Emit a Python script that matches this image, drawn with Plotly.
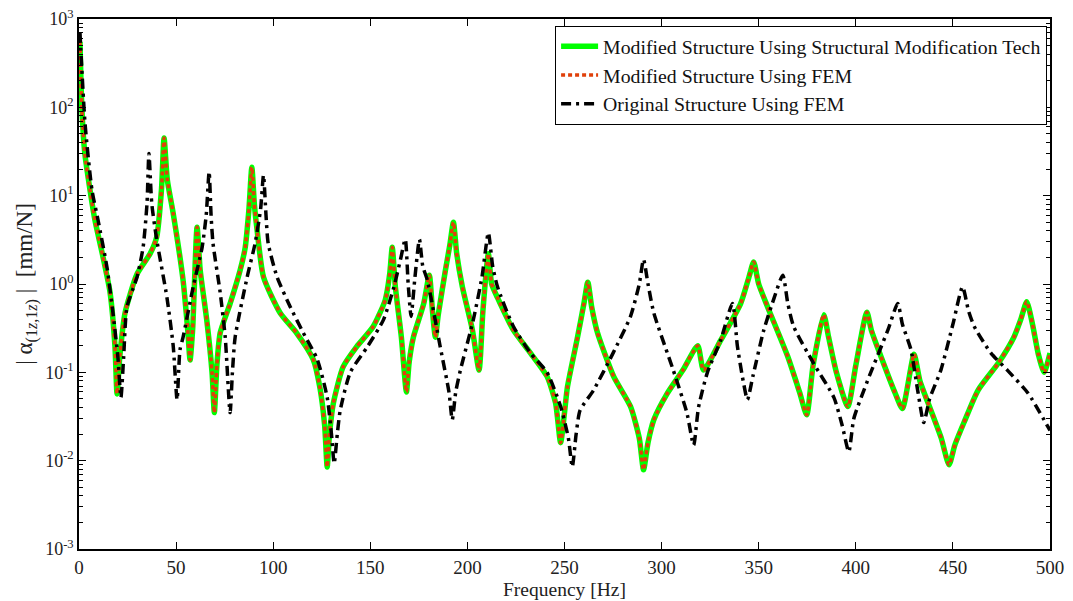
import plotly.graph_objects as go

# Modified structure (structural modification tech & FEM give the same curve)
mod_freq = [0.5, 1.5, 3, 5.7, 8.2, 12.4, 16, 18.5, 19.6, 21, 23.7, 29.9, 36.6, 40, 42.5, 43.8, 45.5, 48.5,
            53.6, 56, 57.2, 58.5, 60.8, 62.4, 65.8, 68.5, 69.7, 71, 72.7, 77.8, 83, 85.6, 87.5, 89, 90.3,
            91.7, 95, 103.6, 112, 120.6, 124, 126.5, 127.8, 129, 131, 136, 143, 151.5, 157.7, 160, 161.3,
            162.9, 166, 168.6, 170, 172.2, 177.5, 180.4, 182, 183.5, 185, 188.7, 191, 192.8, 194.5, 197.4,
            202.6, 206, 208, 210.8, 212.5, 215.5, 223.7, 232.5, 241, 245.4, 248, 250, 251.5, 256.7, 260,
            262, 264, 267, 275.3, 284, 288.5, 290.7, 293, 296, 303, 311, 318.6, 321.6, 330.4, 340.7, 345,
            347.4, 350, 354.6, 365, 371, 374.7, 378, 383.5, 386, 390, 395.9, 400, 405.7, 408, 413, 420,
            424, 430, 433, 438.7, 444, 448, 451, 455.7, 463, 473.7, 481.4, 485, 488, 491, 494, 497, 500]
mod_amp = [550, 95, 30, 11.5, 5.3, 2.0, 0.8, 0.2, 0.057, 0.15, 0.47, 1.3, 2.2, 3.4, 12, 45, 15, 6.3,
           1.1, 0.3, 0.138, 0.3, 4.4, 1.44, 0.39, 0.1, 0.035, 0.12, 0.28, 0.6, 1.44, 2.6, 7, 21, 8,
           4.1, 1.2, 0.47, 0.28, 0.14, 0.068, 0.025, 0.0085, 0.02, 0.045, 0.115, 0.195, 0.33, 0.66, 1.3, 2.6,
           0.93, 0.25, 0.06, 0.13, 0.25, 0.6, 1.26, 0.5, 0.25, 0.45, 1.44, 2.8, 5.0, 2.2, 0.93,
           0.3, 0.106, 0.5, 2.2, 1.0, 0.7, 0.3, 0.165, 0.09, 0.045, 0.016, 0.035, 0.068, 0.25, 0.6,
           1.05, 0.55, 0.28, 0.09, 0.041, 0.018, 0.0079, 0.016, 0.029, 0.058, 0.106, 0.2, 0.106, 0.23, 0.6, 1.2,
           1.78, 1.0, 0.55, 0.15, 0.06, 0.033, 0.12, 0.45, 0.25, 0.1, 0.041, 0.12, 0.48, 0.3, 0.15, 0.06,
           0.039, 0.16, 0.08, 0.037, 0.018, 0.009, 0.015, 0.027, 0.063, 0.13, 0.25, 0.4, 0.63, 0.35, 0.16, 0.1, 0.165]

# Original structure (FEM)
orig_freq = [0.5, 3.1, 6.7, 9.8, 14.4, 17.5, 20, 21.6, 23, 24.7, 29.9, 33, 35, 36, 37.5, 40, 45.3, 48.5,
             50.5, 52, 53.6, 58.8, 63.4, 65.5, 67, 68, 69, 72.7, 75.3, 77.8, 79, 80.4, 86.6, 90.7, 93.5,
             95, 96.3, 97.4, 102, 108.8, 115.5, 122.7, 127.8, 130, 131.4, 133, 134.5, 139.7, 148.5, 156.7,
             162, 165.5, 168, 169.5, 171, 173, 175.3, 177, 179.4, 186, 190.5, 192.2, 194, 196.4, 203,
             207.5, 210.8, 213, 215.5, 223.7, 232.5, 241, 248, 252, 254, 256, 258, 265, 275, 284, 288.5,
             290.7, 293, 296, 306, 313, 316.5, 319, 323.6, 330.4, 336.5, 339, 342, 344.2, 347, 352.6, 358,
             362.4, 365, 368, 378.4, 388.7, 393, 396.4, 399, 406, 416.5, 421.6, 424, 428.4, 432, 435, 438,
             443.8, 450, 455, 458, 461, 469.6, 478, 488.7, 500]
orig_amp = [700, 66, 11.5, 5.3, 1.55, 0.47, 0.15, 0.052, 0.15, 0.55, 1.2, 2.6, 8, 30, 8, 3.2, 0.7, 0.2,
            0.049, 0.18, 0.25, 0.93, 2.6, 6, 18.6, 6, 2.9, 0.8, 0.25, 0.035, 0.1, 0.25, 1.2, 2.9, 7,
            17, 6, 2.9, 1.2, 0.55, 0.28, 0.14, 0.052, 0.02, 0.0093, 0.02, 0.037, 0.1, 0.195, 0.39,
            0.9, 1.87, 3.2, 1.0, 0.43, 1.2, 3.2, 1.6, 1.1, 0.195, 0.06, 0.029, 0.06, 0.106, 0.39,
            1.2, 3.8, 1.6, 0.93, 0.33, 0.165, 0.1, 0.041, 0.018, 0.0085, 0.02, 0.037, 0.063, 0.165, 0.43, 1.0,
            1.9, 1.0, 0.47, 0.106, 0.035, 0.015, 0.04, 0.1, 0.23, 0.6, 0.2, 0.08, 0.049, 0.09, 0.3, 0.7,
            1.26, 0.6, 0.33, 0.125, 0.052, 0.025, 0.0126, 0.03, 0.08, 0.3, 0.6, 0.35, 0.18, 0.06, 0.027, 0.05,
            0.106, 0.35, 0.93, 0.5, 0.33, 0.165, 0.106, 0.058, 0.022]

x_ticks = [0, 50, 100, 150, 200, 250, 300, 350, 400, 450, 500]
y_ticks = [1e-3, 1e-2, 1e-1, 1e0, 1e1, 1e2, 1e3]
y_tick_text = ["10<sup>-3</sup>", "10<sup>-2</sup>", "10<sup>-1</sup>", "10<sup>0</sup>",
               "10<sup>1</sup>", "10<sup>2</sup>", "10<sup>3</sup>"]

FONT = "Liberation Serif"
TXT = "#222"

fig = go.Figure()
fig.add_trace(go.Scatter(x=mod_freq, y=mod_amp, mode="lines",
                         name="Modified Structure Using Structural Modification Tech",
                         line=dict(color="#00ff00", width=5.5, shape="spline", smoothing=0.6)))
fig.add_trace(go.Scatter(x=mod_freq, y=mod_amp, mode="lines",
                         name="Modified Structure Using FEM",
                         line=dict(color="#e0400a", width=3.5, dash="4px,3px", shape="spline", smoothing=0.6)))
fig.add_trace(go.Scatter(x=orig_freq, y=orig_amp, mode="lines",
                         name="Original Structure Using FEM",
                         line=dict(color="black", width=3.5, dash="10px,5px,3px,5px", shape="spline", smoothing=0.6)))

axis_common = dict(showline=True, linecolor="black", linewidth=1.5, mirror="allticks",
                   ticks="inside", tickcolor="black", showgrid=False, zeroline=False,
                   ticklabeloverflow="allow", automargin=False)

# full-window figure; the page's default body margin is removed after plotting,
# so the plot area lands at x 79-1050, y 19-549 of the window
fig.update_layout(
    width=1073, height=601,
    margin=dict(l=79, r=23, t=19, b=52),
    paper_bgcolor="white", plot_bgcolor="white",
    font=dict(family=FONT, size=19, color=TXT),
    xaxis=dict(range=[0, 500], tickvals=x_ticks, ticklen=7,
               tickfont=dict(family=FONT, size=19, color=TXT),
               **axis_common),
    yaxis=dict(type="log", range=[-3, 3], tickvals=y_ticks, ticktext=y_tick_text, ticklen=7,
               tickfont=dict(family=FONT, size=18, color=TXT),
               minor=dict(ticks="inside", ticklen=4, tickcolor="black", dtick="D1"),
               title=dict(text="| α<sub>(1<i>z</i>,1<i>z</i>)</sub> |  [mm/N]",
                          font=dict(family=FONT, size=23, color=TXT), standoff=6),
               **axis_common),
    legend=dict(x=0.997, xanchor="right", y=0.987, yanchor="top", bgcolor="white",
                bordercolor="black", borderwidth=1, font=dict(family=FONT, size=19.8, color="#111"),
                itemwidth=37, tracegroupgap=0),
    showlegend=True,
    annotations=[dict(text="Frequency [Hz]", xref="paper", yref="paper", x=0.5, y=0,
                      xanchor="center", yanchor="top", yshift=-29, showarrow=False, borderpad=0,
                      font=dict(family=FONT, size=19.5, color=TXT))],
)

fig.write_html("out.html", config={"displayModeBar": False},
               post_script="document.body.style.margin='0px';")
